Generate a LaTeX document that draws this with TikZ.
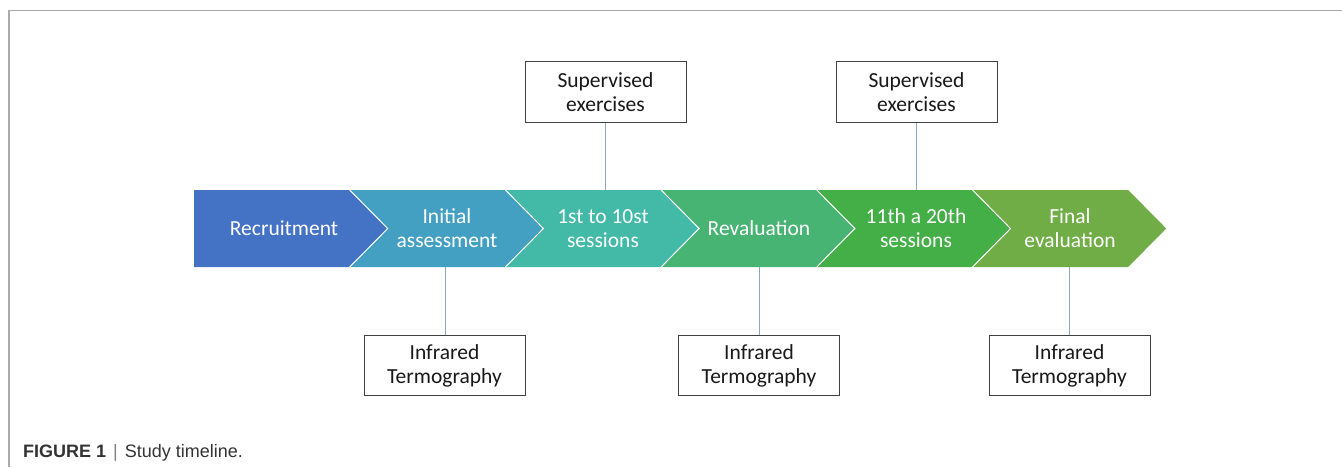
\documentclass[tikz,border=0pt]{standalone}
\usepackage{fontspec}
\setmainfont{Carlito}
\newfontfamily\capfont{Liberation Sans}
\definecolor{cA}{HTML}{4472C4}
\definecolor{cB}{HTML}{44A0C2}
\definecolor{cC}{HTML}{43B9A7}
\definecolor{cD}{HTML}{47B473}
\definecolor{cE}{HTML}{44AE47}
\definecolor{cF}{HTML}{70AD47}
\definecolor{frame}{HTML}{ABABAB}
\definecolor{conn}{HTML}{8EA8BE}
\definecolor{boxline}{HTML}{404040}
\definecolor{captxt}{HTML}{333333}
\begin{document}
\begin{tikzpicture}[x=1pt,y=-1pt,
  chevtext/.style={text=white,align=center,font=\fontsize{21.5}{24}\selectfont,inner sep=0pt},
  infobox/.style={draw=boxline,line width=0.9pt,fill=white,minimum width=161pt,minimum height=60.5pt,align=center,font=\fontsize{21.5}{24}\selectfont,text=black!90,inner sep=0pt},
  connector/.style={draw=conn,line width=1pt},
  sep/.style={draw=white,line width=1pt}]
\useasboundingbox (0,0) rectangle (1342,467);
\draw[frame,line width=1.5pt] (9,467) -- (9,10.5) -- (1342,10.5);
% chevrons
\def\ya{190}\def\yb{267}\def\ym{228.5}
\fill[cA] (194,\ya) -- (349.7,\ya) -- (387.7,\ym) -- (349.7,\yb) -- (194,\yb) -- cycle;
\foreach \x/\c in {349.7/cB,505.4/cC,661.1/cD,816.8/cE,972.5/cF}{
  \fill[\c] (\x,\ya) -- (\x+155.7,\ya) -- (\x+193.7,\ym) -- (\x+155.7,\yb) -- (\x,\yb) -- (\x+38,\ym) -- cycle;
  \draw[sep] (\x,\ya) -- (\x+38,\ym) -- (\x,\yb);
}
% chevron texts
\node[chevtext] (t1) at (284,228.5) {Recruitment};
\node[chevtext] (t2) at (447,228.5) {Initial\\assessment};
\node[chevtext] (t3) at (603,228.5) {1st to 10st\\sessions};
\node[chevtext] (t4) at (759,228.5) {Revaluation};
\node[chevtext] (t5) at (916,228.5) {11th a 20th\\sessions};
\node[chevtext] (t6) at (1070,228.5) {Final\\evaluation};
% band edge coordinates
\coordinate (c3top) at (605.5,\ya);
\coordinate (c5top) at (916.5,\ya);
\coordinate (c2bot) at (445.5,\yb);
\coordinate (c4bot) at (759,\yb);
\coordinate (c6bot) at (1069.5,\yb);
% boxes
\node[infobox] (s1) at (605.5,92) {Supervised\\exercises};
\node[infobox] (s2) at (916.5,92) {Supervised\\exercises};
\node[infobox] (i1) at (444.5,365.5) {Infrared\\Termography};
\node[infobox] (i2) at (759,365.5) {Infrared\\Termography};
\node[infobox] (i3) at (1069.5,365.5) {Infrared\\Termography};
% connectors
\draw[connector] (s1.south) -- (c3top);
\draw[connector] (s2.south) -- (c5top);
\draw[connector] (c2bot) -- (i1.north -| c2bot);
\draw[connector] (c4bot) -- (i2.north);
\draw[connector] (c6bot) -- (i3.north);
% caption
\node[anchor=base west,inner sep=0pt,text=captxt,font=\capfont\fontsize{18}{20}\selectfont] (cap) at (23,457)
  {\textbf{FIGURE 1}\hspace{7pt}{\color{black!50}|}\hspace{7pt}Study timeline.};
\end{tikzpicture}
\end{document}
